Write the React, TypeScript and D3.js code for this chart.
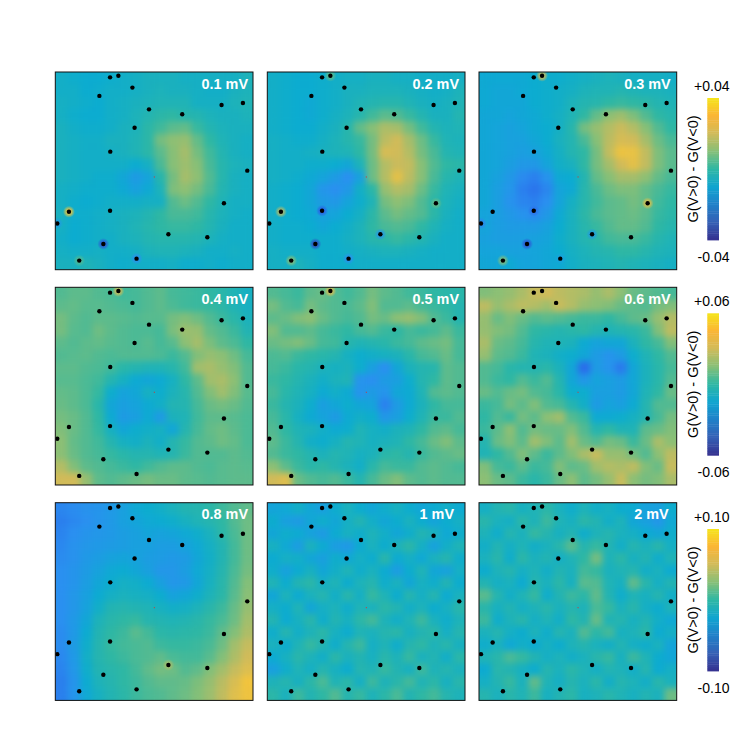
import React from 'react';
import * as d3 from 'd3';

// parula colormap stops; the colorbar prints a little duller than the maps
const parula = ['#352a87', '#2a5ce8', '#2a90f0', '#0cacd0', '#2eb7a4', '#87bf77', '#d1bb59', '#fec832', '#f9fb0e'];
const parulaBar = ['#35308f', '#3560b5', '#2080c8', '#10a5d0', '#2eb7a4', '#87bf77', '#d1bb59', '#fbb535', '#f5e51a'];

// adatom positions, percent of the field of view
const pointX = [27.7, 31.9, 39, 22.3, 47.4, 64.2, 84.1, 94.9, 40.1, 27.8, 97.1, 85.3, 27.7, 6.9, 1, 57.2, 76.9, 24.3, 12.1, 41.1];
const pointY = [2.7, 1.9, 7.9, 12.1, 18.9, 21.4, 16.7, 15.7, 28.2, 40.3, 49.9, 66.4, 70.2, 70.7, 76.6, 82.1, 83.6, 87, 95.4, 94.4];
const centerX = 50.1;
const centerY = 53.1;

// G(V>0) - G(V<0) maps, in units of 0.001
const g01 = [
  [-8,-9,-10,-10,-9,-8,-7,-6,-6,-6,-7,-7,-7,-7,-7,-5],
  [-8,-8,-10,-9,-8,-8,-7,-6,-5,-6,-6,-7,-8,-8,-6,-5],
  [-7,-8,-9,-10,-8,-7,-6,-5,-4,-4,-4,-7,-7,-7,-5,-4],
  [-7,-9,-10,-10,-8,-7,-5,-3,-1,0,-2,-3,-5,-6,-6,-5],
  [-6,-8,-9,-9,-8,-6,-5,-1,2,5,6,1,-3,-5,-6,-6],
  [-6,-7,-8,-8,-6,-6,-4,-1,8,11,12,6,0,-4,-6,-7],
  [-6,-7,-8,-8,-7,-6,-4,-1,5,10,14,8,2,-3,-6,-7],
  [-6,-7,-8,-8,-8,-8,-10,-7,3,10,13,10,3,-2,-5,-6],
  [-6,-7,-8,-9,-9,-12,-16,-13,-2,8,14,11,4,-2,-6,-7],
  [-7,-8,-9,-9,-9,-11,-14,-11,-5,9,11,8,3,-3,-6,-7],
  [-7,-9,-10,-9,-8,-8,-8,-7,-7,4,7,4,0,-4,-7,-7],
  [-6,-9,-9,-8,-7,-6,-5,-3,0,3,3,2,-2,-5,-7,-8],
  [-7,-10,-9,-8,-7,-6,-4,-2,0,1,1,0,-3,-6,-8,-8],
  [-8,-10,-9,-8,-8,-6,-5,-3,-2,-2,-2,-3,-5,-7,-8,-8],
  [-7,-8,-8,-7,-8,-8,-7,-5,-4,-4,-5,-6,-8,-8,-7,-8],
  [-6,-6,-4,-6,-8,-9,-8,-8,-8,-7,-9,-9,-8,-9,-8,-8],
];
const g02 = [
  [-8,-9,-10,-10,-9,-8,-7,-7,-6,-6,-7,-7,-8,-8,-8,-7],
  [-8,-9,-10,-10,-9,-8,-6,-6,-5,-5,-5,-6,-7,-8,-7,-5],
  [-8,-9,-10,-11,-9,-8,-6,-4,-3,-2,-2,-4,-6,-7,-6,-4],
  [-8,-9,-10,-11,-9,-7,-5,-2,2,5,4,1,-3,-6,-6,-3],
  [-8,-9,-10,-10,-8,-6,-2,6,10,15,14,8,2,-3,-5,-4],
  [-7,-8,-9,-9,-7,-5,-2,1,8,17,20,14,7,1,-4,-5],
  [-7,-8,-8,-7,-6,-5,-4,0,8,21,20,16,8,3,-3,-4],
  [-7,-8,-8,-9,-9,-10,-12,-5,7,16,19,18,10,4,0,-1],
  [-7,-8,-9,-11,-13,-16,-20,-14,7,16,24,17,10,3,-2,-4],
  [-8,-9,-10,-12,-18,-20,-17,-8,-1,12,16,14,7,1,-4,-6],
  [-8,-9,-10,-12,-16,-17,-13,-9,-4,8,11,9,4,-1,-5,-7],
  [-8,-9,-10,-11,-14,-13,-10,-7,-1,5,8,6,4,-1,-6,-8],
  [-8,-9,-9,-10,-12,-10,-8,-5,0,3,4,3,0,-4,-7,-8],
  [-8,-9,-9,-9,-9,-9,-7,-5,-2,-1,1,-1,-3,-6,-8,-8],
  [-7,-8,-8,-8,-9,-9,-8,-7,-6,-5,-5,-6,-7,-8,-8,-8],
  [-7,-7,-5,-7,-9,-9,-9,-8,-8,-8,-8,-8,-8,-8,-8,-8],
];
const g03 = [
  [-11,-11,-11,-11,-10,-9,-9,-8,-7,-6,-5,-6,-7,-7,-7,-8],
  [-11,-12,-12,-11,-10,-9,-8,-7,-5,-4,-4,-3,-4,-5,-5,-6],
  [-11,-12,-12,-12,-10,-9,-8,-5,-3,-2,0,1,0,-1,-3,-4],
  [-12,-12,-13,-12,-11,-9,-7,-4,0,6,11,13,9,4,0,-2],
  [-12,-13,-14,-13,-11,-10,-7,-2,8,12,16,19,16,10,4,0],
  [-12,-13,-14,-14,-12,-10,-6,-3,3,10,17,21,20,14,7,3],
  [-12,-13,-14,-15,-14,-11,-7,-3,0,8,18,26,25,18,9,5],
  [-12,-13,-15,-17,-17,-13,-8,-6,0,8,14,20,24,18,9,5],
  [-12,-14,-17,-21,-23,-19,-11,-10,-3,6,10,14,14,11,6,3],
  [-12,-15,-18,-23,-25,-22,-13,-11,-2,3,7,9,9,6,3,1],
  [-12,-15,-19,-22,-23,-20,-13,-7,-2,2,5,6,8,6,2,0],
  [-13,-15,-17,-19,-21,-17,-11,-6,-1,3,5,6,7,5,1,-1],
  [-13,-15,-16,-16,-16,-14,-10,-6,-2,1,4,6,6,4,0,-2],
  [-14,-15,-15,-15,-14,-13,-9,-6,-3,-1,2,3,3,1,-2,-4],
  [-13,-13,-14,-14,-13,-12,-10,-7,-5,-3,-2,0,0,-2,-4,-5],
  [-12,-12,-11,-13,-13,-12,-11,-8,-6,-5,-4,-3,-4,-5,-6,-7],
];
const g04 = [
  [6,8,8,6,5,3,4,6,8,4,3,2,0,-2,-6,-10],
  [8,9,7,7,6,5,4,6,8,5,3,2,1,-1,-6,-10],
  [12,8,6,8,8,7,6,7,7,12,14,11,6,2,-2,-8],
  [12,7,6,11,8,6,5,5,4,13,19,18,9,6,2,-5],
  [8,6,8,9,7,6,5,7,4,7,16,21,13,8,5,0],
  [6,7,8,6,5,6,6,6,5,2,6,14,18,16,11,4],
  [8,8,6,5,3,-2,-4,-6,-6,-3,3,20,22,18,14,6],
  [7,7,5,3,-4,-10,-16,-18,-16,-10,0,8,20,22,16,6],
  [9,8,5,1,-14,-20,-18,-10,-14,-8,-3,6,14,20,14,7],
  [10,8,5,-2,-18,-22,-20,-16,-12,-5,-4,4,10,12,10,6],
  [12,10,6,0,-16,-24,-22,-16,-24,-8,-6,3,8,8,7,5],
  [14,10,6,1,-10,-18,-14,-12,-10,-18,-4,4,9,11,8,5],
  [16,9,6,3,-4,-10,-12,-8,-12,-4,1,6,8,11,9,5],
  [16,10,6,4,1,-2,-4,-4,-6,-4,2,6,6,6,8,6],
  [24,14,8,6,4,2,0,3,6,8,8,6,5,7,8,7],
  [30,30,18,8,6,8,10,12,10,10,8,7,6,7,8,8],
];
const g05 = [
  [6,4,2,8,10,6,3,6,12,8,6,3,2,0,-2,-2],
  [12,6,4,12,8,6,5,8,14,6,6,8,4,2,0,-4],
  [8,10,14,16,10,6,4,6,12,10,16,18,14,6,2,-4],
  [14,6,6,8,4,2,0,4,6,2,0,4,2,4,8,2],
  [10,12,14,10,4,3,-3,-6,-4,-2,2,4,8,10,12,4],
  [5,6,2,0,-2,-4,-10,-14,-12,-10,-8,-2,4,6,10,4],
  [4,2,-2,-4,-8,-10,-8,-14,-22,-30,-18,-8,-4,-3,8,6],
  [2,0,-4,-8,-12,-8,-6,-28,-30,-24,-22,-14,-4,0,8,6],
  [4,-2,-6,-10,-16,-12,-16,-28,-24,-28,-18,-16,-6,6,8,6],
  [2,-4,-8,-14,-22,-18,-14,-18,-20,-34,-24,-16,-8,0,4,4],
  [4,-2,-10,-16,-20,-24,-16,-12,-14,-26,-22,-14,-6,2,2,6],
  [6,0,-6,-8,-12,-16,-14,-6,-10,-12,-8,-6,0,6,8,4],
  [8,2,-4,-12,-14,-10,-4,-6,-10,-8,-6,0,4,10,14,8],
  [6,2,0,-4,-8,-4,-6,-10,-8,-2,0,-4,2,6,8,10],
  [16,8,2,-2,0,-4,-8,-12,-2,4,2,2,6,8,6,4],
  [30,34,10,6,4,6,2,-4,4,10,14,8,6,8,6,6],
];
const g06 = [
  [14,16,18,22,28,30,26,24,22,18,22,16,10,8,6,4],
  [26,18,22,26,24,20,28,24,18,16,14,10,8,6,12,14],
  [18,10,14,10,6,8,6,4,2,2,0,4,8,10,18,24],
  [18,14,12,6,0,-2,-4,-2,0,-4,-6,-4,-2,2,14,26],
  [22,10,8,4,-3,-6,-6,-8,-16,-20,-18,-18,-8,0,4,14],
  [18,8,6,2,-6,-8,-12,-14,-18,-24,-28,-24,-14,-6,0,6],
  [6,4,-2,-4,-4,-2,-8,-18,-40,-24,-28,-36,-18,-8,-2,4],
  [6,2,0,6,2,6,-4,-18,-26,-20,-22,-24,-18,-8,-2,6],
  [10,6,10,12,6,4,-2,-14,-14,-22,-22,-24,-18,-6,0,10],
  [2,4,12,8,14,6,4,-4,-12,-24,-20,-22,-16,-4,6,6],
  [0,6,2,12,8,16,20,6,2,-16,-16,-14,-10,-4,4,12],
  [2,8,16,6,12,10,10,14,6,-4,0,-6,-6,8,10,14],
  [-4,10,14,8,20,14,8,20,10,6,12,10,2,10,22,16],
  [-6,0,6,14,8,2,8,14,22,28,18,18,12,6,16,26],
  [14,4,2,8,2,4,14,8,10,20,24,22,26,14,10,28],
  [16,10,8,2,-2,2,10,16,8,12,18,28,16,12,14,22],
];
const g08 = [
  [-55,-52,-48,-46,-42,-36,-28,-24,-20,-14,-8,-6,-2,4,10,14],
  [-58,-54,-50,-46,-42,-36,-32,-28,-26,-22,-16,-10,-6,0,10,18],
  [-56,-50,-46,-44,-42,-38,-36,-32,-34,-32,-28,-22,-14,-2,8,18],
  [-54,-48,-44,-42,-40,-38,-36,-36,-38,-38,-34,-28,-18,-8,6,18],
  [-52,-48,-42,-38,-34,-32,-34,-38,-40,-42,-40,-30,-20,-8,6,18],
  [-50,-46,-40,-34,-28,-26,-30,-36,-44,-44,-38,-28,-18,-6,8,20],
  [-50,-46,-38,-30,-24,-18,-20,-26,-36,-44,-42,-30,-16,-4,10,24],
  [-50,-44,-36,-26,-18,-14,-16,-18,-24,-34,-30,-22,-12,-2,12,26],
  [-50,-44,-34,-20,-8,-6,-8,-10,-16,-20,-18,-12,-4,4,16,30],
  [-50,-42,-30,-12,-4,0,2,-6,-8,-10,-8,-4,2,8,18,34],
  [-52,-42,-26,-8,0,4,12,6,-2,-4,-2,0,4,14,24,38],
  [-52,-40,-22,-6,2,6,8,10,4,2,2,4,8,18,34,46],
  [-54,-42,-20,-6,0,4,8,10,14,8,6,6,12,24,38,50],
  [-56,-44,-22,-8,-4,0,6,14,20,18,10,14,24,34,46,56],
  [-58,-46,-26,-12,-6,0,4,10,14,14,16,22,30,42,54,68],
  [-58,-46,-28,-16,-8,-2,4,8,10,14,18,24,32,44,58,66],
];
const g10 = [
  [-32,-28,-20,-30,-36,-24,-14,-24,-30,-22,-16,-24,-30,-26,-20,-26],
  [-24,-36,-40,-30,-22,-30,-18,-8,-20,-30,-24,-14,-24,-32,-24,-18],
  [-30,-22,-26,-34,-40,-26,-16,-22,-12,-20,-30,-22,-8,-14,-28,-22],
  [-16,-28,-38,-14,-26,-38,-42,-26,-14,-24,-12,-2,-18,-34,-20,-10],
  [-26,-18,-20,-30,-36,-22,-28,-18,-24,-4,-26,-18,-28,-14,-6,-22],
  [-22,-34,-26,-16,-30,-20,-10,-22,-14,-26,-38,-24,-10,-30,-34,-18],
  [-10,-24,-8,-2,-18,-10,-24,-12,-6,-22,-14,-30,-16,-22,-8,-24],
  [-30,-12,-26,-14,-6,-20,-4,-18,2,-10,-24,-6,-18,-6,-26,-14],
  [-18,-24,-10,-30,-18,-12,-22,-10,-14,-2,-8,-20,-12,-24,-16,-4],
  [-8,-26,-16,-4,-22,-8,-16,-2,6,-12,-20,-10,4,-14,-22,-12],
  [-22,-6,-20,-12,-2,-16,-24,-10,-14,-6,-2,-16,-8,-2,-18,-6],
  [-14,-24,-10,2,-8,-22,-6,4,-18,-10,-22,-6,0,-12,-4,-16],
  [-26,-16,-4,-12,-20,-2,-14,-8,-16,-4,-12,2,-14,-8,-20,-2],
  [-36,-22,-10,-18,-6,-16,-24,-6,-10,2,-8,-16,4,-12,-6,-14],
  [-12,-6,-16,-2,8,-10,-2,-18,4,-12,-4,6,-10,-2,-16,-4],
  [-2,-14,4,-8,0,10,-6,2,-12,-2,8,-8,0,6,-6,-12],
];
const g20 = [
  [-18,-8,-4,-16,-10,-2,-14,-22,-12,-20,-16,-24,-26,-34,-36,-24],
  [-4,-14,-18,-2,-12,4,-10,-16,-2,-8,-20,-12,-30,-36,-44,-28],
  [-12,-22,-6,-14,2,-6,-16,-8,-22,-12,-6,-14,-18,-26,-30,-22],
  [-20,-8,-18,-10,-20,-14,-4,12,-6,2,-8,-20,-6,-14,-4,-18],
  [-14,-4,-22,-2,-14,-8,-18,-10,0,20,-12,-2,-16,-8,-22,-10],
  [-24,-12,-6,-18,-10,-20,-8,-14,6,2,-14,-10,-6,-20,-14,-26],
  [-8,-18,-14,-26,-6,-14,-2,-16,12,10,-10,-16,14,-4,-18,-8],
  [12,-6,-20,-10,2,-22,-8,4,-2,14,-8,-22,-10,-16,-6,-20],
  [-4,-16,-8,-18,-12,-4,-14,-6,-12,8,2,-14,-4,-18,-24,-12],
  [4,-22,-12,-4,-18,-10,-20,0,-8,16,-10,-6,-16,-8,-20,-28],
  [-14,-6,-18,-24,-12,-22,-6,-14,10,-2,6,-16,-12,-2,-26,-18],
  [-22,-14,-28,-20,-26,-16,-24,-12,-6,-14,-20,-8,-18,-22,-14,-32],
  [-10,-4,8,2,-8,-18,-12,-20,-14,-4,2,-16,4,-10,-24,-30],
  [-26,-4,-8,-16,-24,-6,-14,-2,-10,-18,-8,-12,-20,-6,-26,-18],
  [-18,-8,2,-14,14,-10,-18,-6,-14,-2,-20,-6,-12,-20,-4,-14],
  [-6,-14,-4,-10,4,-16,-8,-2,-16,-12,-4,-10,-16,-8,-14,18],
];

// spots around single adatoms: [point index, value]
const spots01 = [[13, 30], [17, -32], [18, 4], [19, -20], [14, -16]];
const spots02 = [[13, 18], [12, -30], [17, -34], [18, 10], [19, -20], [15, -18], [1, 6], [11, 6]];
const spots03 = [[1, 22], [12, -26], [17, -32], [18, 10], [11, 24], [14, -22], [15, -16], [19, -14]];
const spots04 = [[1, 32]];
const spots05 = [[1, 34]];
const spots06 = [[1, 28]];
const spots08 = [[15, 35]];
const spots10: number[][] = [];
const spots20: number[][] = [];

const maps = [g01, g02, g03, g04, g05, g06, g08, g10, g20];
const spots = [spots01, spots02, spots03, spots04, spots05, spots06, spots08, spots10, spots20];
const energies = ['0.1 mV', '0.2 mV', '0.3 mV', '0.4 mV', '0.5 mV', '0.6 mV', '0.8 mV', '1 mV', '2 mV'];
const labelInset = [5, 6, 6, 5, 6, 6, 5, 11, 8];

const limits = [40, 60, 100];
const maxLabels = ['+0.04', '+0.06', '+0.10'];
const minLabels = ['-0.04', '-0.06', '-0.10'];

const colLeft = [55.3, 267.3, 479];
const rowTop = [72, 287.3, 502.7];
const size = 197.7;
const barTop = [98, 313.3, 529];
const barHeight = 142;
const barLeft = 707.3;
const barWidth = 11.7;
const font = '"Liberation Sans", Arial, sans-serif';

const colorFor = (lim: number, stops: string[] = parula) =>
  d3.scaleLinear<string>()
    .domain(stops.map((_, i) => -lim + (2 * lim * i) / (stops.length - 1)))
    .range(stops)
    .clamp(true);

const Panel = ({ index }: { index: number }) => {
  const col = index % 3;
  const row = Math.floor(index / 3);
  const grid = maps[index];
  const color = colorFor(limits[row]);
  const x = d3.scaleBand<number>().domain(d3.range(grid[0].length)).range([0, size]);
  const y = d3.scaleBand<number>().domain(d3.range(grid.length)).range([0, size]);
  const px = d3.scaleLinear().domain([0, 100]).range([0, size]);

  return (
    <g transform={`translate(${colLeft[col]},${rowTop[row]})`}>
      <defs>
        <clipPath id={`clip${index}`}>
          <rect width={size} height={size} />
        </clipPath>
        {spots[index].map(([p, v]) => (
          <radialGradient id={`spot${index}-${p}`} key={p}>
            <stop offset="0%" stopColor={color(v)} stopOpacity={1} />
            <stop offset="50%" stopColor={color(v)} stopOpacity={0.7} />
            <stop offset="100%" stopColor={color(v)} stopOpacity={0} />
          </radialGradient>
        ))}
      </defs>
      <g clipPath={`url(#clip${index})`}>
        <g filter="url(#smooth)">
          {grid.map((cells, r) =>
            cells.map((v, c) => (
              <rect
                key={`${r}-${c}`}
                x={x(c)}
                y={y(r)}
                width={x.bandwidth() + 0.5}
                height={y.bandwidth() + 0.5}
                fill={color(v)}
              />
            ))
          )}
        </g>
        {spots[index].map(([p, v]) => (
          <circle key={p} cx={px(pointX[p])} cy={px(pointY[p])} r={6} fill={`url(#spot${index}-${p})`} />
        ))}
        {pointX.map((d, i) => (
          <circle key={i} cx={px(d)} cy={px(pointY[i])} r={2.2} fill="#000" />
        ))}
        <rect x={px(centerX) - 0.5} y={px(centerY) - 0.5} width={1} height={1} fill="#e0302a" />
      </g>
      <rect width={size} height={size} fill="none" stroke="#111" strokeWidth={1} />
      <text
        x={size - labelInset[index]}
        y={16.7}
        textAnchor="end"
        fill="#fff"
        fontFamily={font}
        fontWeight="bold"
        fontSize={14.4}
      >
        {energies[index]}
      </text>
    </g>
  );
};

const ColorBar = ({ row }: { row: number }) => {
  const lim = limits[row];
  const color = colorFor(lim, parulaBar);
  const y = d3.scaleLinear().domain([lim, -lim]).range([0, barHeight]);
  const levels = d3.range(64).map(i => lim - ((i + 0.5) * 2 * lim) / 64);
  const step = barHeight / 64;
  return (
    <g transform={`translate(${barLeft},${barTop[row]})`}>
      {levels.map(v => (
        <rect key={v} x={0} y={y(v) - step / 2} width={barWidth} height={step + 0.4} fill={color(v)} />
      ))}
      <text x={22.2} y={y(lim) - 7} textAnchor="end" fontFamily={font} fontSize={14}>{maxLabels[row]}</text>
      <text x={22.2} y={y(-lim) + 21.7} textAnchor="end" fontFamily={font} fontSize={14}>{minLabels[row]}</text>
      <text
        transform={`translate(-9.5,${barHeight / 2}) rotate(-90)`}
        textAnchor="middle"
        fontFamily={font}
        fontSize={14.5}
      >
        G(V&gt;0) - G(V&lt;0)
      </text>
    </g>
  );
};

export default function App() {
  return (
    <svg width={747} height={747} style={{ position: 'absolute', left: 0, top: 0, background: '#fff' }}>
      <defs>
        {/* keeps alpha at 1 so the blur does not fade at the panel edges */}
        <filter id="smooth" x="-10%" y="-10%" width="120%" height="120%" colorInterpolationFilters="sRGB">
          <feGaussianBlur stdDeviation={3} />
          <feComponentTransfer>
            <feFuncA type="discrete" tableValues="1 1" />
          </feComponentTransfer>
        </filter>
      </defs>
      {maps.map((_, i) => <Panel key={i} index={i} />)}
      {limits.map((_, r) => <ColorBar key={r} row={r} />)}
    </svg>
  );
}
